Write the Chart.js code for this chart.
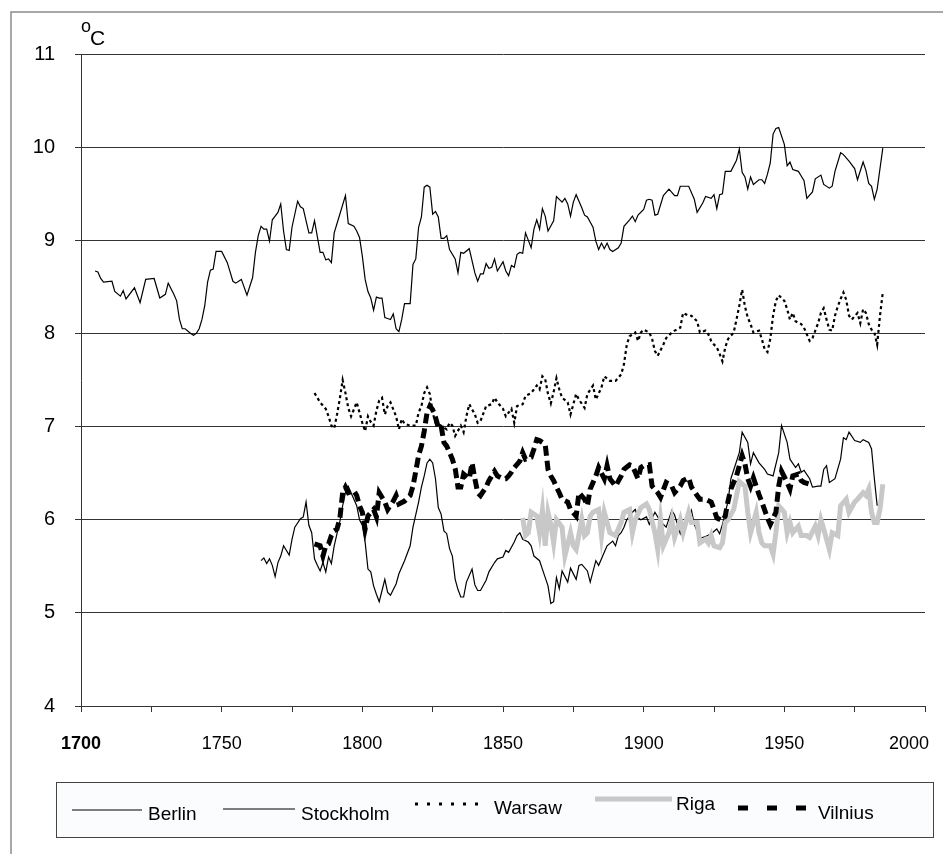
<!DOCTYPE html>
<html>
<head>
<meta charset="utf-8">
<title>Mean annual temperature</title>
<script src="https://cdn.jsdelivr.net/npm/chart.js@4.4.1/dist/chart.umd.min.js"></script>
<style>
  html, body { margin: 0; padding: 0; background: #fff; }
  #chart { display: block; }
</style>
</head>
<body>
<canvas id="chart" width="943" height="854"></canvas>
<script>
  // values (deg C, smoothed annual means)
  const berlinYears = [
    1705, 1706, 1707, 1708, 1711, 1712, 1714, 1715, 1716, 1719,
    1721, 1723, 1726, 1728, 1730, 1731, 1733, 1734, 1735, 1736,
    1737, 1739, 1740, 1741, 1742, 1743, 1744, 1745, 1746, 1747,
    1748, 1750, 1752, 1754, 1755, 1757, 1759, 1761, 1762, 1763,
    1764, 1765, 1766, 1767, 1768, 1769, 1770, 1771, 1772, 1773,
    1774, 1775, 1777, 1778, 1779, 1781, 1782, 1783, 1785, 1786,
    1787, 1788, 1789, 1790, 1792, 1794, 1795, 1797, 1798, 1799,
    1800, 1801, 1802, 1803, 1804, 1805, 1806, 1807, 1808, 1809,
    1810, 1811, 1812, 1813, 1814, 1815, 1817, 1818, 1819, 1820,
    1821, 1822, 1823, 1824, 1825, 1826, 1827, 1828, 1829, 1830,
    1831, 1833, 1834, 1835, 1836, 1838, 1840, 1841, 1842, 1843,
    1844, 1845, 1846, 1847, 1848, 1850, 1851, 1852, 1853, 1854,
    1855, 1856, 1857, 1858, 1860, 1861, 1862, 1863, 1864, 1865,
    1866, 1868, 1869, 1871, 1872, 1873, 1874, 1875, 1876, 1878,
    1879, 1880, 1882, 1883, 1884, 1885, 1886, 1887, 1888, 1889,
    1891, 1892, 1893, 1895, 1896, 1897, 1898, 1900, 1901, 1902,
    1903, 1904, 1905, 1907, 1909, 1911, 1912, 1913, 1916, 1918,
    1919, 1921, 1922, 1924, 1925, 1926, 1927, 1928, 1929, 1931,
    1933, 1934, 1935, 1936, 1937, 1938, 1939, 1941, 1942, 1943,
    1944, 1945, 1946, 1947, 1948, 1950, 1951, 1952, 1953, 1955,
    1956, 1957, 1958, 1960, 1961, 1963, 1964, 1966, 1967, 1968,
    1970, 1971, 1973, 1975, 1976, 1978, 1979, 1980, 1981, 1982,
    1983, 1985
  ];
  const berlinTemps = [
    8.67, 8.66, 8.59, 8.55, 8.56, 8.45, 8.40, 8.46, 8.37, 8.49,
    8.33, 8.58, 8.59, 8.38, 8.42, 8.54, 8.42, 8.35, 8.15, 8.05,
    8.05, 8.00, 7.98, 8.00, 8.05, 8.15, 8.30, 8.55, 8.68, 8.69,
    8.88, 8.88, 8.76, 8.56, 8.54, 8.58, 8.41, 8.60, 8.87, 9.05,
    9.15, 9.12, 9.12, 8.99, 9.22, 9.26, 9.30, 9.39, 9.10, 8.90,
    8.89, 9.14, 9.42, 9.36, 9.34, 9.08, 9.08, 9.21, 8.87, 8.87,
    8.79, 8.80, 8.76, 9.08, 9.28, 9.48, 9.18, 9.15, 9.10, 9.03,
    8.83, 8.58, 8.45, 8.38, 8.25, 8.39, 8.38, 8.38, 8.17, 8.16,
    8.15, 8.21, 8.05, 8.02, 8.15, 8.32, 8.32, 8.74, 8.80, 9.14,
    9.25, 9.57, 9.59, 9.57, 9.28, 9.31, 9.25, 9.02, 9.02, 9.05,
    8.90, 8.80, 8.65, 8.87, 8.86, 8.91, 8.65, 8.56, 8.64, 8.64,
    8.75, 8.70, 8.71, 8.80, 8.67, 8.77, 8.67, 8.62, 8.73, 8.71,
    8.85, 8.87, 8.86, 9.08, 8.92, 9.12, 9.22, 9.12, 9.34, 9.26,
    9.10, 9.21, 9.47, 9.41, 9.45, 9.39, 9.26, 9.41, 9.49, 9.35,
    9.27, 9.25, 9.14, 8.99, 8.90, 8.97, 8.91, 8.97, 8.90, 8.88,
    8.92, 8.97, 9.15, 9.22, 9.26, 9.20, 9.27, 9.33, 9.43, 9.44,
    9.43, 9.27, 9.28, 9.48, 9.55, 9.48, 9.48, 9.58, 9.58, 9.44,
    9.30, 9.40, 9.47, 9.45, 9.49, 9.34, 9.49, 9.50, 9.74, 9.74,
    9.86, 9.98, 9.73, 9.68, 9.55, 9.68, 9.60, 9.65, 9.65, 9.61,
    9.71, 9.83, 10.14, 10.20, 10.21, 10.03, 9.80, 9.84, 9.76, 9.74,
    9.69, 9.64, 9.45, 9.52, 9.66, 9.70, 9.60, 9.56, 9.58, 9.74,
    9.94, 9.92, 9.85, 9.77, 9.65, 9.84, 9.75, 9.61, 9.58, 9.44,
    9.55, 9.99
  ];

  const stockholmYears = [
    1764, 1765, 1766, 1767, 1768, 1769, 1770, 1771, 1772, 1774,
    1775, 1776, 1778, 1779, 1780, 1781, 1782, 1783, 1784, 1785,
    1786, 1787, 1788, 1789, 1790, 1791, 1792, 1793, 1794, 1795,
    1796, 1798, 1799, 1800, 1801, 1802, 1803, 1804, 1805, 1806,
    1807, 1808, 1809, 1810, 1812, 1813, 1815, 1817, 1818, 1820,
    1821, 1822, 1823, 1824, 1825, 1826, 1827, 1828, 1829, 1830,
    1831, 1832, 1833, 1834, 1835, 1836, 1837, 1839, 1840, 1841,
    1842, 1844, 1845, 1847, 1848, 1850, 1851, 1852, 1854, 1855,
    1856, 1857, 1859, 1860, 1861, 1863, 1864, 1866, 1867, 1868,
    1869, 1870, 1871, 1873, 1874, 1876, 1877, 1878, 1880, 1881,
    1883, 1884, 1886, 1887, 1889, 1890, 1891, 1892, 1893, 1894,
    1896, 1897, 1898, 1899, 1901, 1902, 1904, 1906, 1908, 1910,
    1911, 1913, 1914, 1916, 1917, 1918, 1920, 1922, 1924, 1926,
    1927, 1928, 1930, 1931, 1934, 1935, 1937, 1938, 1939, 1941,
    1943, 1944, 1946, 1948, 1949, 1951, 1952, 1954, 1955, 1956,
    1957, 1959, 1960, 1962, 1963, 1964, 1965, 1966, 1968, 1970,
    1971, 1972, 1973, 1975, 1977, 1978, 1980, 1981, 1982, 1983
  ];
  const stockholmTemps = [
    5.56, 5.59, 5.53, 5.58, 5.51, 5.39, 5.54, 5.61, 5.72, 5.62,
    5.79, 5.92, 6.01, 6.03, 6.19, 5.94, 5.86, 5.58, 5.51, 5.45,
    5.54, 5.44, 5.60, 5.53, 5.72, 5.85, 5.98, 6.15, 6.29, 6.36,
    6.29, 6.15, 6.00, 5.94, 5.76, 5.47, 5.44, 5.29, 5.20, 5.12,
    5.24, 5.36, 5.22, 5.19, 5.31, 5.42, 5.56, 5.72, 5.92, 6.19,
    6.35, 6.47, 6.61, 6.65, 6.61, 6.44, 6.13, 6.06, 5.88, 5.85,
    5.69, 5.61, 5.36, 5.25, 5.17, 5.17, 5.33, 5.47, 5.30, 5.24,
    5.24, 5.35, 5.44, 5.54, 5.58, 5.60, 5.67, 5.65, 5.76, 5.83,
    5.86, 5.79, 5.76, 5.72, 5.61, 5.56, 5.47, 5.29, 5.10, 5.12,
    5.38, 5.26, 5.45, 5.33, 5.48, 5.36, 5.51, 5.52, 5.45, 5.33,
    5.56, 5.51, 5.65, 5.72, 5.77, 5.72, 5.83, 5.86, 5.92, 6.00,
    6.08, 6.11, 6.02, 6.00, 6.03, 5.95, 6.08, 5.98, 5.92, 6.10,
    6.05, 5.85, 5.95, 6.00, 6.10, 5.95, 5.80, 5.82, 5.85, 5.90,
    5.85, 5.95, 6.20, 6.44, 6.72, 6.94, 6.83, 6.60, 6.72, 6.61,
    6.54, 6.49, 6.47, 6.72, 7.01, 6.83, 6.65, 6.56, 6.60, 6.51,
    6.53, 6.44, 6.35, 6.36, 6.36, 6.54, 6.58, 6.40, 6.44, 6.65,
    6.88, 6.86, 6.94, 6.85, 6.83, 6.86, 6.83, 6.76, 6.44, 6.15
  ];

  const warsawYears = [
    1783, 1785, 1787, 1788, 1789, 1790, 1791, 1792, 1793, 1794,
    1795, 1796, 1798, 1799, 1800, 1801, 1802, 1803, 1804, 1805,
    1806, 1807, 1808, 1809, 1810, 1812, 1813, 1814, 1815, 1817,
    1818, 1819, 1820, 1821, 1822, 1823, 1824, 1825, 1826, 1828,
    1830, 1831, 1832, 1833, 1835, 1836, 1837, 1838, 1840, 1841,
    1842, 1844, 1846, 1847, 1848, 1850, 1851, 1853, 1854, 1855,
    1857, 1858, 1860, 1862, 1863, 1864, 1865, 1866, 1867, 1868,
    1869, 1870, 1871, 1873, 1874, 1876, 1877, 1879, 1880, 1882,
    1883, 1885, 1886, 1888, 1890, 1892, 1893, 1894, 1895, 1897,
    1898, 1899, 1900, 1902, 1903, 1904, 1905, 1907, 1908, 1910,
    1911, 1913, 1914, 1916, 1917, 1919, 1920, 1922, 1923, 1924,
    1925, 1926, 1927, 1928, 1929, 1930, 1932, 1933, 1934, 1935,
    1936, 1937, 1938, 1939, 1941, 1942, 1943, 1944, 1945, 1946,
    1947, 1948, 1950, 1951, 1952, 1953, 1954, 1956, 1957, 1958,
    1959, 1960, 1962, 1963, 1964, 1965, 1966, 1967, 1968, 1969,
    1970, 1971, 1972, 1973, 1974, 1976, 1977, 1978, 1979, 1980,
    1981, 1982, 1983, 1984, 1985
  ];
  const warsawTemps = [
    7.36, 7.26, 7.19, 7.11, 7.01, 6.98, 7.13, 7.30, 7.50, 7.36,
    7.20, 7.11, 7.26, 7.15, 7.04, 6.95, 7.11, 7.05, 7.01, 7.17,
    7.28, 7.31, 7.13, 7.22, 7.26, 7.11, 6.97, 7.08, 7.03, 7.01,
    7.01, 7.01, 7.15, 7.22, 7.36, 7.42, 7.35, 7.15, 7.04, 7.01,
    6.97, 7.04, 7.01, 6.90, 7.01, 6.94, 7.11, 7.24, 7.13, 7.04,
    7.06, 7.22, 7.24, 7.31, 7.26, 7.19, 7.11, 7.19, 7.04, 7.22,
    7.24, 7.33, 7.36, 7.44, 7.40, 7.54, 7.51, 7.35, 7.25, 7.37,
    7.52, 7.40, 7.31, 7.26, 7.13, 7.35, 7.29, 7.20, 7.35, 7.44,
    7.29, 7.42, 7.54, 7.49, 7.49, 7.56, 7.67, 7.88, 7.97, 8.01,
    7.92, 8.01, 8.04, 8.01, 7.94, 7.81, 7.76, 7.88, 7.95, 8.01,
    8.03, 8.06, 8.22, 8.19, 8.19, 8.13, 8.01, 8.03, 7.99, 7.92,
    7.88, 7.85, 7.78, 7.70, 7.85, 7.94, 8.01, 8.15, 8.30, 8.47,
    8.29, 8.17, 8.10, 8.01, 8.03, 7.94, 7.83, 7.80, 7.94, 8.19,
    8.35, 8.41, 8.35, 8.26, 8.15, 8.22, 8.13, 8.10, 8.06, 7.99,
    7.92, 7.95, 8.11, 8.22, 8.27, 8.15, 8.04, 8.03, 8.19, 8.29,
    8.37, 8.44, 8.36, 8.19, 8.15, 8.22, 8.11, 8.26, 8.22, 8.10,
    8.04, 8.01, 7.88, 8.19, 8.44
  ];

  const rigaYears = [
    1857, 1858, 1859, 1860, 1862, 1863, 1864, 1865, 1866, 1867,
    1868, 1869, 1871, 1872, 1874, 1875, 1876, 1878, 1879, 1880,
    1881, 1882, 1884, 1885, 1886, 1888, 1890, 1892, 1893, 1895,
    1896, 1897, 1899, 1901, 1902, 1904, 1905, 1906, 1907, 1909,
    1910, 1911, 1913, 1914, 1916, 1917, 1919, 1920, 1922, 1923,
    1924, 1925, 1927, 1928, 1929, 1930, 1932, 1933, 1934, 1936,
    1937, 1938, 1940, 1941, 1942, 1943, 1945, 1946, 1947, 1948,
    1950, 1951, 1952, 1953, 1955, 1956, 1958, 1959, 1961, 1962,
    1963, 1964, 1966, 1967, 1969, 1970, 1972, 1973, 1975, 1976,
    1978, 1979, 1980, 1981, 1982, 1983, 1984, 1985
  ];
  const rigaTemps = [
    6.02, 5.83, 5.86, 6.08, 6.04, 5.86, 6.10, 5.72, 6.08, 5.95,
    5.75, 6.00, 5.92, 5.61, 5.86, 5.72, 5.68, 6.00, 5.83, 5.86,
    6.04, 6.08, 6.11, 5.83, 6.08, 5.86, 5.83, 5.97, 6.08, 6.11,
    5.86, 6.00, 6.13, 6.17, 6.11, 5.86, 5.68, 6.00, 5.72, 5.86,
    6.00, 5.81, 6.00, 5.86, 6.08, 5.97, 5.97, 5.75, 5.79, 5.75,
    5.83, 5.72, 5.70, 5.75, 5.97, 6.00, 6.11, 6.26, 6.41, 6.36,
    6.08, 5.86, 6.08, 5.86, 5.75, 5.72, 5.72, 5.63, 5.86, 6.15,
    6.08, 5.86, 5.97, 5.86, 5.93, 5.83, 5.83, 5.81, 5.93, 5.83,
    6.00, 5.90, 5.68, 5.86, 5.83, 6.15, 6.22, 6.08, 6.19, 6.22,
    6.29, 6.26, 6.33, 6.08, 5.97, 5.97, 6.11, 6.38
  ];

  const vilniusYears = [
    1783, 1785, 1786, 1787, 1788, 1789, 1790, 1791, 1792, 1793,
    1794, 1795, 1797, 1798, 1799, 1800, 1801, 1802, 1804, 1805,
    1806, 1808, 1809, 1811, 1812, 1813, 1815, 1817, 1818, 1819,
    1820, 1821, 1822, 1823, 1824, 1825, 1826, 1827, 1828, 1829,
    1830, 1831, 1832, 1833, 1834, 1835, 1836, 1838, 1839, 1840,
    1841, 1842, 1844, 1845, 1846, 1847, 1848, 1850, 1851, 1852,
    1853, 1854, 1856, 1857, 1858, 1860, 1861, 1862, 1863, 1865,
    1866, 1867, 1868, 1869, 1870, 1871, 1873, 1874, 1876, 1877,
    1879, 1880, 1881, 1883, 1884, 1886, 1887, 1888, 1890, 1892,
    1893, 1895, 1896, 1898, 1899, 1900, 1902, 1903, 1905, 1906,
    1908, 1910, 1911, 1913, 1914, 1916, 1917, 1919, 1920, 1922,
    1924, 1925, 1926, 1928, 1929, 1930, 1931, 1933, 1934, 1935,
    1936, 1937, 1938, 1939, 1941, 1942, 1944, 1945, 1947, 1948,
    1949, 1951, 1952, 1953, 1955, 1956, 1957, 1959, 1960
  ];
  const vilniusTemps = [
    5.74, 5.72, 5.61, 5.72, 5.74, 5.83, 5.88, 5.90, 6.01, 6.29,
    6.35, 6.29, 6.31, 6.26, 6.15, 6.08, 5.90, 6.04, 6.11, 6.03,
    6.29, 6.19, 6.11, 6.20, 6.26, 6.17, 6.20, 6.26, 6.36, 6.52,
    6.69, 6.79, 6.95, 7.15, 7.22, 7.18, 7.10, 6.99, 7.01, 6.83,
    6.79, 6.72, 6.65, 6.55, 6.35, 6.35, 6.49, 6.44, 6.61, 6.44,
    6.29, 6.26, 6.35, 6.42, 6.47, 6.52, 6.47, 6.44, 6.44, 6.47,
    6.51, 6.56, 6.63, 6.72, 6.65, 6.67, 6.76, 6.86, 6.85, 6.81,
    6.54, 6.47, 6.42, 6.35, 6.29, 6.22, 6.19, 6.11, 6.04, 6.29,
    6.22, 6.15, 6.33, 6.47, 6.56, 6.44, 6.58, 6.44, 6.36, 6.47,
    6.54, 6.59, 6.58, 6.44, 6.56, 6.58, 6.59, 6.36, 6.29, 6.24,
    6.40, 6.36, 6.29, 6.36, 6.42, 6.45, 6.35, 6.26, 6.22, 6.22,
    6.19, 6.11, 6.02, 5.99, 6.04, 6.20, 6.33, 6.47, 6.58, 6.69,
    6.60, 6.44, 6.36, 6.45, 6.27, 6.19, 6.02, 5.95, 6.08, 6.36,
    6.52, 6.40, 6.33, 6.47, 6.49, 6.42, 6.40, 6.38, 6.38
  ];

  const seriesNames = ["Berlin", "Stockholm", "Warsaw", "Riga", "Vilnius"];

  (function() {
    "use strict";

    const FONT = "'Liberation Sans', Arial, sans-serif";
    const X_MAX = 2000;
    const X_LABEL_PAD = 21;
    const X_TICK_LEN = 6;

    /**
     * Initialization of page.
     */
    function init() {
      let datasets = [
        makeSeries(seriesNames[0], berlinYears, berlinTemps,
          {borderColor: "#000", borderWidth: 1.2, order: 5}),
        makeSeries(seriesNames[1], stockholmYears, stockholmTemps,
          {borderColor: "#000", borderWidth: 1.2, order: 4}),
        makeSeries(seriesNames[2], warsawYears, warsawTemps,
          {borderColor: "#000", borderWidth: 2.2, borderDash: [3, 3], order: 3}),
        makeSeries(seriesNames[3], rigaYears, rigaTemps,
          {borderColor: "#c8c8c8", borderWidth: 5, order: 2}),
        makeSeries(seriesNames[4], vilniusYears, vilniusTemps,
          {borderColor: "#000", borderWidth: 5, borderDash: [10, 5], order: 1})
      ];
      drawChart(datasets);
    }

    /**
     * Pair up years and temperatures into one line dataset.
     */
    function makeSeries(name, years, temps, style) {
      let points = years.map((year, i) => ({x: year, y: temps[i]}));
      return Object.assign({
        label: name,
        data: points,
        fill: false,
        pointRadius: 0,
        tension: 0,
        borderCapStyle: "butt",
        borderJoinStyle: "miter"
      }, style);
    }

    // outer frame, unit label, last year label and the boxed legend
    const decorations = {
      id: "decorations",
      beforeDraw(chart) {
        let ctx = chart.ctx;
        ctx.save();
        ctx.fillStyle = "#fff";
        ctx.fillRect(0, 0, chart.width, chart.height);
        ctx.strokeStyle = "#8c8c8c";
        ctx.lineWidth = 1.5;
        ctx.beginPath();
        ctx.moveTo(11, chart.height);
        ctx.lineTo(11, 12);
        ctx.lineTo(chart.width, 12);
        ctx.stroke();
        ctx.restore();
      },
      afterDraw(chart) {
        let ctx = chart.ctx;
        ctx.save();
        ctx.fillStyle = "#000";
        ctx.textBaseline = "alphabetic";
        ctx.font = "18px " + FONT;
        ctx.fillText("o", 81, 32);
        ctx.font = "21px " + FONT;
        ctx.fillText("C", 90, 45);

        // the last year label is pulled in so it stays inside the page
        let xs = chart.scales.x;
        ctx.font = "18px " + FONT;
        ctx.textBaseline = "top";
        ctx.textAlign = "right";
        ctx.fillText(String(X_MAX), Math.min(xs.getPixelForValue(X_MAX) + 20, chart.width - 14),
          xs.top + X_TICK_LEN + X_LABEL_PAD + 2);
        ctx.textAlign = "left";

        drawLegend(ctx, chart);
        ctx.restore();
      }
    };

    /**
     * Hand-drawn legend box, matching the spreadsheet legend.
     */
    function drawLegend(ctx, chart) {
      ctx.fillStyle = "#fbfcfe";
      ctx.fillRect(56.5, 782.5, 877, 55);
      ctx.strokeStyle = "#444";
      ctx.lineWidth = 1;
      ctx.strokeRect(56.5, 782.5, 877, 55);

      let entries = [
        {x0: 72, x1: 142, y: 810, tx: 148, ty: 815, dash: [], width: 1},
        {x0: 223, x1: 295, y: 809, tx: 301, ty: 815, dash: [], width: 1},
        {x0: 415, x1: 487, y: 804, tx: 494, ty: 809, dash: [3, 9], width: 3},
        {x0: 595, x1: 672, y: 799, tx: 676, ty: 805, dash: [], width: 5},
        {x0: 738, x1: 808, y: 808, tx: 818, ty: 814, dash: [10, 19], width: 5}
      ];
      let sets = chart.data.datasets;
      ctx.font = "19px " + FONT;
      ctx.textBaseline = "middle";
      entries.forEach((e, i) => {
        ctx.strokeStyle = sets[i].borderColor;
        ctx.lineWidth = e.width;
        ctx.setLineDash(e.dash);
        ctx.beginPath();
        ctx.moveTo(e.x0, e.y);
        ctx.lineTo(e.x1, e.y);
        ctx.stroke();
        ctx.setLineDash([]);
        ctx.fillStyle = "#000";
        ctx.fillText(sets[i].label, e.tx, e.ty);
      });
    }

    /**
     * Drop the extra room Chart.js keeps for overhanging tick labels.
     */
    function noOverhang(scale) {
      scale.paddingLeft = 0;
      scale.paddingRight = 0;
      scale.paddingTop = 0;
      scale.paddingBottom = 0;
    }

    /**
     * Build the Chart.js line chart.
     */
    function drawChart(datasets) {
      let config = {
        type: "line",
        data: {datasets: datasets},
        options: {
          responsive: false,
          animation: false,
          devicePixelRatio: 1,
          layout: {
            autoPadding: false,
            padding: {left: 0, top: 54, right: 18, bottom: 0}
          },
          plugins: {
            legend: {display: false},
            tooltip: {enabled: false}
          },
          scales: {
            x: {
              type: "linear",
              min: 1700,
              max: X_MAX,
              afterFit: (scale) => {
                scale.height = 148;
                noOverhang(scale);
              },
              border: {display: true, color: "#333", width: 1},
              grid: {drawOnChartArea: false, drawTicks: true, tickLength: X_TICK_LEN, color: "#333"},
              ticks: {
                stepSize: 25,
                autoSkip: false,
                maxRotation: 0,
                padding: X_LABEL_PAD,
                color: "#000",
                font: (c) => ({
                  family: FONT,
                  size: 18,
                  weight: (c.tick && c.tick.value === 1700) ? "bold" : "normal"
                }),
                // 2000 is drawn by the plugin so it can sit inside the page
                callback: (v) => (v % 50 === 0 && v !== X_MAX ? String(v) : "")
              }
            },
            y: {
              min: 4,
              max: 11,
              afterFit: (scale) => {
                scale.width = 81;
                noOverhang(scale);
              },
              border: {display: true, color: "#333", width: 1},
              grid: {color: "#333", drawTicks: true, tickLength: 6},
              ticks: {
                stepSize: 1,
                padding: 20,
                color: "#000",
                font: {family: FONT, size: 20}
              }
            }
          }
        },
        plugins: [decorations]
      };
      new Chart(id("chart"), config);
    }

    /**
     * Shorthand for getElementById.
     */
    function id(name) {
      return document.getElementById(name);
    }

    init();
  })();
</script>
</body>
</html>
